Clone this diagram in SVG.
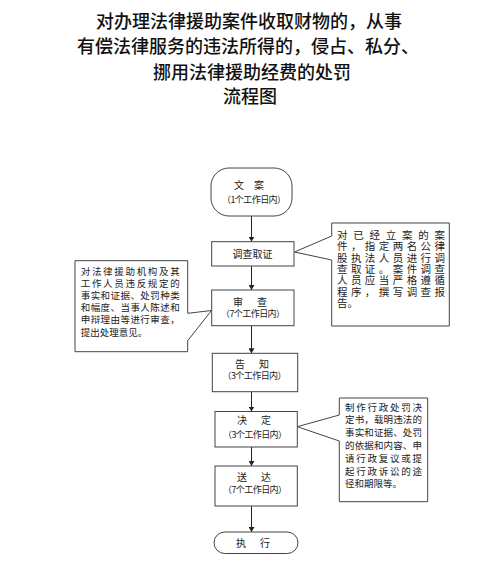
<svg xmlns="http://www.w3.org/2000/svg" width="499" height="569" viewBox="0 0 499 569">
<defs>
<marker id="arr" viewBox="0 0 10 10" refX="10" refY="5" markerWidth="5" markerHeight="6" markerUnits="userSpaceOnUse" orient="auto" preserveAspectRatio="none">
<path d="M0,0 L10,5 L0,10 Z" fill="#222"/>
</marker>
<style>
.title{font-family:"Liberation Serif","Noto Sans CJK SC",serif;font-size:18px;font-weight:500;fill:#111;text-anchor:middle}
.box{fill:#fff;stroke:#444;stroke-width:1}
.t{font-family:"Liberation Serif","Noto Sans CJK SC",serif;font-size:10px;fill:#222;text-anchor:middle}
.s{font-family:"Noto Sans CJK SC",sans-serif;font-size:9px;fill:#222;text-anchor:middle}
.c{font-family:"Liberation Serif","Noto Sans CJK SC",serif;font-size:9.5px;fill:#222}
.c1{font-family:"Liberation Serif","Noto Sans CJK SC",serif;font-size:10.5px;fill:#222}
.edge{stroke:#222;stroke-width:1;fill:none;marker-end:url(#arr)}
</style>
</defs>
<rect width="499" height="569" fill="#fff"/>
<g id="title">
<text class="title" x="249" y="28">对办理法律援助案件收取财物的，从事</text>
<text class="title" x="248" y="53">有偿法律服务的违法所得的，侵占、私分、</text>
<text class="title" x="252" y="78.5">挪用法律援助经费的处罚</text>
<text class="title" x="250" y="103">流程图</text>
</g>
<g id="connectors">
<line class="edge" x1="251.5" y1="216" x2="251.5" y2="241.7"/>
<line class="edge" x1="251.5" y1="266" x2="251.5" y2="290"/>
<line class="edge" x1="251.5" y1="325.7" x2="251.5" y2="353.3"/>
<line class="edge" x1="251.5" y1="391.7" x2="251.5" y2="411.5"/>
<line class="edge" x1="251.5" y1="447" x2="251.5" y2="466"/>
<line class="edge" x1="251.5" y1="506" x2="251.5" y2="532"/>
</g>
<g id="n-lian">
<rect class="box" x="211" y="168" width="81" height="48" rx="18" ry="18"/>
<text class="t" x="249" y="189">文　案</text>
<text class="s" x="254" y="202.5" textLength="64" lengthAdjust="spacing">（1个工作日内）</text>
</g>
<g id="n-diaocha">
<rect class="box" x="211.7" y="241.7" width="82.3" height="24.3"/>
<text class="t" x="252.5" y="257.5" textLength="40" lengthAdjust="spacing">调查取证</text>
</g>
<g id="n-shencha">
<rect class="box" x="211.7" y="290" width="82.3" height="35.7"/>
<text class="t" x="250" y="305.5" textLength="34" lengthAdjust="spacing">审　查</text>
<text class="s" x="253" y="317" textLength="64" lengthAdjust="spacing">（7个工作日内）</text>
</g>
<g id="n-gaozhi">
<rect class="box" x="212.3" y="353.3" width="85.4" height="38.4"/>
<text class="t" x="252" y="368" textLength="34" lengthAdjust="spacing">告　知</text>
<text class="s" x="254.5" y="379" textLength="64" lengthAdjust="spacing">（3个工作日内）</text>
</g>
<g id="n-jueding">
<rect class="box" x="215" y="411.5" width="82.3" height="35.5"/>
<text class="t" x="254" y="424" textLength="34" lengthAdjust="spacing">决　定</text>
<text class="s" x="255" y="438" textLength="64" lengthAdjust="spacing">（3个工作日内）</text>
</g>
<g id="n-songda">
<rect class="box" x="215" y="466" width="82.3" height="40"/>
<text class="t" x="254" y="481" textLength="34" lengthAdjust="spacing">送　达</text>
<text class="s" x="255" y="493" textLength="64" lengthAdjust="spacing">（7个工作日内）</text>
</g>
<g id="n-zhixing">
<rect class="box" x="214" y="532" width="84" height="21.5" rx="10.75" ry="10.75"/>
<text class="t" x="253" y="546.5" textLength="34" lengthAdjust="spacing">执　行</text>
</g>
<g id="callout-diaocha">
<path class="box" d="M331.7,223 H449.3 V326 H331.7 V260 L294.5,252 L331.7,236 Z"/>
<text class="c1" x="337" y="239" textLength="108" lengthAdjust="spacing">对已经立案的案</text>
<text class="c1" x="337" y="250.3" textLength="108" lengthAdjust="spacing">件，指定两名公律</text>
<text class="c1" x="337" y="261.6" textLength="108" lengthAdjust="spacing">股执法人员进行调</text>
<text class="c1" x="337" y="272.9" textLength="108" lengthAdjust="spacing">查取证。案件调查</text>
<text class="c1" x="337" y="284.2" textLength="108" lengthAdjust="spacing">人员应当严格遵循</text>
<text class="c1" x="337" y="295.5" textLength="108" lengthAdjust="spacing">程序，撰写调查报</text>
<text class="c1" x="337" y="306.8">告。</text>
</g>
<g id="callout-shencha">
<path class="box" d="M75,260.7 H187.7 V313.3 L211.5,310.5 L187.7,340.7 V351.7 H75 Z"/>
<text class="c" x="80.7" y="274.5" textLength="99" lengthAdjust="spacing">对法律援助机构及其</text>
<text class="c" x="80.7" y="286.7" textLength="99" lengthAdjust="spacing">工作人员违反规定的</text>
<text class="c" x="80.7" y="298.9" textLength="99" lengthAdjust="spacing">事实和证据、处罚种类</text>
<text class="c" x="80.7" y="311.1" textLength="99" lengthAdjust="spacing">和幅度、当事人陈述和</text>
<text class="c" x="80.7" y="323.3" textLength="99" lengthAdjust="spacing">申辩理由等进行审查，</text>
<text class="c" x="80.7" y="335.5">提出处理意见。</text>
</g>
<g id="callout-jueding">
<path class="box" d="M339.3,398 H427.7 V501.7 H339.3 V441 L297.3,426.7 L339.3,415 Z"/>
<text class="c" x="345" y="410.5" textLength="77" lengthAdjust="spacing">制作行政处罚决</text>
<text class="c" x="345" y="423.3" textLength="77" lengthAdjust="spacing">定书，载明违法的</text>
<text class="c" x="345" y="436.1" textLength="77" lengthAdjust="spacing">事实和证据、处罚</text>
<text class="c" x="345" y="448.9" textLength="77" lengthAdjust="spacing">的依据和内容、申</text>
<text class="c" x="345" y="461.7" textLength="77" lengthAdjust="spacing">请行政复议或提</text>
<text class="c" x="345" y="474.5" textLength="77" lengthAdjust="spacing">起行政诉讼的途</text>
<text class="c" x="345" y="487.3">径和期限等。</text>
</g>
</svg>
